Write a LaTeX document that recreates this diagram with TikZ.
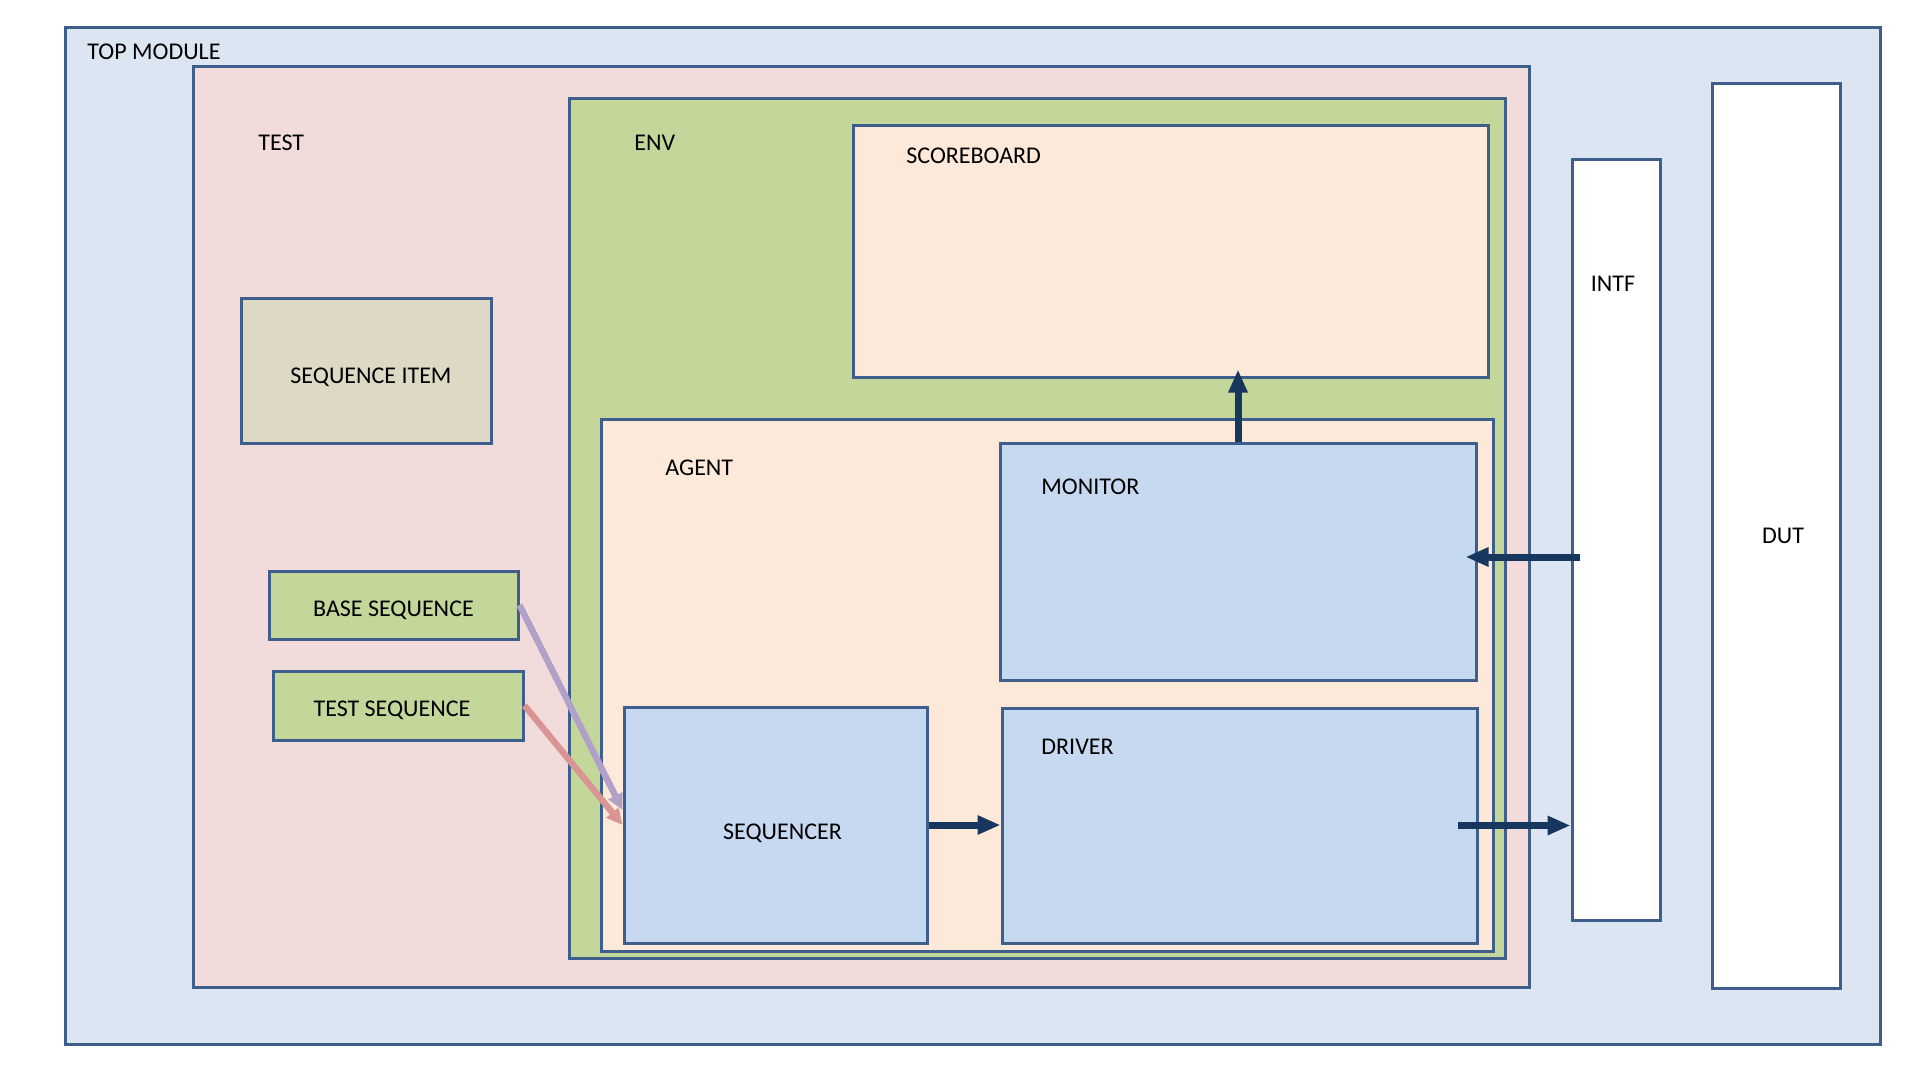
\documentclass[tikz,border=0pt]{standalone}
\usepackage{fontspec}
\setmainfont{Carlito}
\usetikzlibrary{arrows.meta,positioning}
\definecolor{edgeblue}{HTML}{3E5F8C}
\definecolor{topfill}{HTML}{DCE6F2}
\definecolor{testfill}{HTML}{F2DCDB}
\definecolor{envfill}{HTML}{C4D79B}
\definecolor{peach}{HTML}{FDE9D9}
\definecolor{compfill}{HTML}{C6D9F1}
\definecolor{itemfill}{HTML}{DDD9C4}
\definecolor{darkflow}{HTML}{17375E}
\definecolor{lilac}{HTML}{B1A0C7}
\definecolor{rose}{HTML}{D99594}

\begin{document}
\begin{tikzpicture}[x=0.5pt, y=-0.5pt, font=\fontsize{12}{14}\selectfont,
    blk/.style={draw=edgeblue, line width=1.5pt, inner sep=0pt, align=center},
    lbl/.style={anchor=west, inner sep=0pt},
    flow/.style={draw=darkflow, line width=3.5pt, -{Triangle[length=11.5pt, width=9pt]}},
    seqflow/.style={line width=3.2pt, -{Triangle[length=8pt, width=7.5pt]}}]
\useasboundingbox[fill=white] (0,0) rectangle (1920,1080);

% containers
\node[blk, fill=topfill, minimum width=907.5pt, minimum height=508pt] (top) at (972.5,536) {};
\node[blk, fill=testfill, minimum width=668pt, minimum height=460pt] (test) at (861,527) {};
\node[blk, fill=envfill, minimum width=468pt, minimum height=429.5pt] (env) at (1037,528.5) {};
\node[blk, fill=peach, minimum width=317.5pt, minimum height=125.5pt] (sb) at (1170.5,251.5) {};
\node[blk, fill=peach, minimum width=446pt, minimum height=266pt] (agent) at (1047,685) {};

% components
\node[blk, fill=compfill, minimum width=238pt, minimum height=118.5pt] (mon) at (1238,561.5) {};
\node[blk, fill=compfill, minimum width=237.5pt, minimum height=117.5pt] (drv) at (1239.5,825.5) {};
\node[blk, fill=compfill, minimum width=151.5pt, minimum height=118pt,
  label={[xshift=3.5pt, yshift=-4.3pt]center:SEQUENCER}] (seq) at (775.5,825) {};
\node[blk, fill=itemfill, minimum width=125pt, minimum height=72pt,
  label={[xshift=2.5pt, yshift=-3pt]center:SEQUENCE ITEM}] (item) at (366,371) {};
\node[blk, fill=envfill, minimum width=124.5pt, minimum height=34pt,
  label={[yshift=-2.5pt]center:BASE SEQUENCE}] (base) at (393.5,605) {};
\node[blk, fill=envfill, minimum width=125pt, minimum height=34.5pt,
  label={[xshift=-3pt, yshift=-2.5pt]center:TEST SEQUENCE}] (tseq) at (398,705.5) {};
\node[blk, fill=white, minimum width=44pt, minimum height=380pt] (intf) at (1616,540) {};
\node[blk, fill=white, minimum width=64pt, minimum height=452pt] (dut) at (1776,536) {\hspace*{7pt}DUT};

% titles
\node[lbl] (toplbl) at (87,52) {TOP MODULE};
\node[lbl] (testlbl) at (258,143) {TEST};
\node[lbl] (envlbl) at (634,143) {ENV};
\node[lbl] (sblbl) at (906,156) {SCOREBOARD};
\node[lbl] (agentlbl) at (665,468) {AGENT};
\node[lbl] (monlbl) at (1041,487) {MONITOR};
\node[lbl] (drvlbl) at (1041,747) {DRIVER};
\node (intflbl) at (1613,284) {INTF};

% connections
\draw[seqflow, draw=lilac] (base.east) -- ([yshift=7.5pt]seq.west);
\draw[seqflow, draw=rose] (tseq.east) -- (seq.west);
\draw[flow] (mon.north) -- ([yshift=4.5pt]sb.south -| mon.north);
\draw[flow] ([xshift=4.5pt,yshift=2.25pt]intf.west |- mon.east) -- ([xshift=-6pt,yshift=2.25pt]mon.east);
\draw[flow] (seq.east) -- (drv.west |- seq.east);
\draw[flow] ([xshift=-10.5pt]drv.east) -- (intf.west |- drv.east);
\end{tikzpicture}
\end{document}
